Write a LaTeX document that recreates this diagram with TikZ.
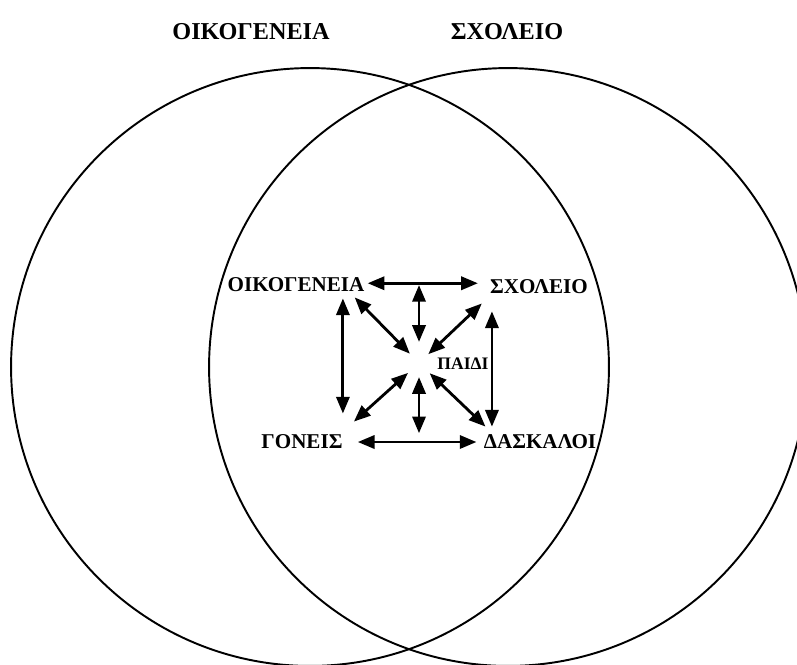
\documentclass[tikz,border=0pt]{standalone}
\usepackage{fontspec}
\setmainfont{Liberation Serif}
\usetikzlibrary{arrows.meta,positioning}

\begin{document}
\begin{tikzpicture}[x=0.02cm,y=-0.02cm,
  ring/.style={draw,circle,line width=1.1pt,minimum size=11.96cm,inner sep=0pt},
  title/.style={font=\fontsize{13.8}{16}\selectfont\bfseries,inner sep=0pt},
  who/.style={font=\fontsize{12}{14}\selectfont\bfseries,inner sep=0pt},
  kid/.style={font=\fontsize{10}{12}\selectfont\bfseries,inner sep=0pt},
  dbl/.style={{Triangle[length=9.5pt,width=7.5pt]}-{Triangle[length=9.5pt,width=7.5pt]},line width=1.6pt}]
  \useasboundingbox (0,0) rectangle (797,664);
  \clip (0,0) rectangle (797,664);
  % the two circles
  \node[ring] (famring) at (310,367) {};
  \node[ring] (schring) at (508,367) {};
  \node[title] (famtitle) at (251,32) {ΟΙΚΟΓΕΝΕΙΑ};
  \node[title] (schtitle) at (507,32) {ΣΧΟΛΕΙΟ};
  % the four corners and the child
  \node[who] (oik) at (296,285) {ΟΙΚΟΓΕΝΕΙΑ};
  \node[who] (sch) at (539,287) {ΣΧΟΛΕΙΟ};
  \node[who] (gon) at (302,442) {ΓΟΝΕΙΣ};
  \node[who] (das) at (540,442) {ΔΑΣΚΑΛΟΙ};
  \coordinate (c) at (419,363);
  \node[kid] (paidi) at (463,364) {ΠΑΙΔΙ};
  % sides of the square
  \draw[dbl,shorten <=1.7pt,shorten >=6.8pt] ([yshift=1pt]oik.east) -- ([yshift=1pt]oik.east -| sch.west);
  \draw[dbl,shorten <=8.5pt,shorten >=4pt] (gon.east) -- (das.west);
  \draw[dbl,shorten <=3.4pt,shorten >=12pt] (gon.east |- oik.south) -- (gon.north east);
  \draw[dbl,shorten <=9.6pt,shorten >=4.5pt] ([xshift=1.2pt]sch.south west) -- ([xshift=1.2pt]sch.south west |- das.north);
  % spokes to the child
  \draw[dbl,shorten >=12pt] (c |- oik.east) -- (c);
  \draw[dbl,shorten <=8pt,shorten >=5pt] (c) -- (c |- gon.east);
  \draw[dbl,shorten >=7.4pt] ([shift={(-10,5)}]oik.south east) -- (c);
  \draw[dbl,shorten >=7.3pt] ([shift={(-8,9)}]sch.south west) -- (c);
  \draw[dbl,shorten >=8.4pt] ([shift={(11,-13)}]gon.north east) -- (c);
  \draw[dbl,shorten >=8.4pt] ([shift={(2,-8)}]das.north west) -- (c);
\end{tikzpicture}
\end{document}
